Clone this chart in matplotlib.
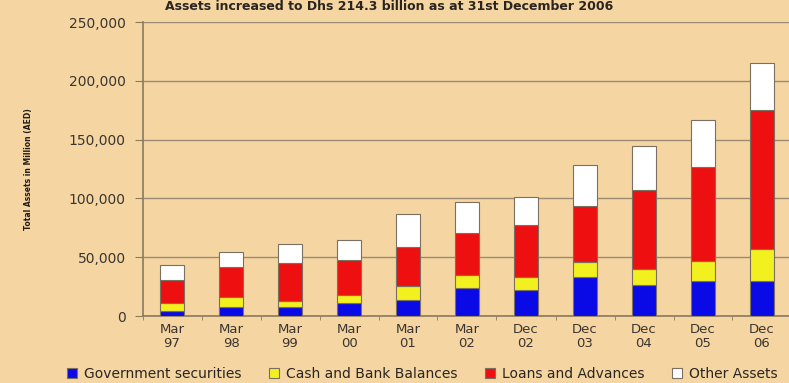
import matplotlib
matplotlib.use("Agg")
import matplotlib.pyplot as plt
import numpy as np

categories = ["Mar\n97", "Mar\n98", "Mar\n99", "Mar\n00", "Mar\n01", "Mar\n02",
              "Dec\n02", "Dec\n03", "Dec\n04", "Dec\n05", "Dec\n06"]
gov_securities = [4000, 8000, 8000, 11000, 13500, 24000, 22500, 33500, 26000, 30000, 30000]
cash_bank = [7000, 8000, 5000, 6500, 12000, 11000, 11000, 12500, 14000, 17000, 27000]
loans_adv = [20000, 25500, 32000, 30500, 33500, 36000, 43500, 47500, 67000, 80000, 118000]
other_assets = [12000, 13300, 16000, 16500, 27500, 26000, 24500, 35000, 37500, 39500, 40000]
series_names = ["Government securities", "Cash and Bank Balances", "Loans and Advances", "Other Assets"]
yticks = [0, 50000, 100000, 150000, 200000, 250000]

bg = "#F5D6A2"
colors = ["#0A0AE6", "#F2F01E", "#EE1010", "#FFFFFF"]
txt = "#3a3530"

fig = plt.figure(figsize=(7.89, 3.83), dpi=100, facecolor=bg)
ax = fig.add_axes([142.5/789, 1 - 316/383, (791.5-142.5)/789, (316-22)/383])
ax.set_facecolor(bg)

x = np.arange(len(categories))
bottom = np.zeros(len(categories))
handles = []
for vals, c, name in zip([gov_securities, cash_bank, loans_adv, other_assets], colors, series_names):
    b = ax.bar(x, vals, width=0.42, bottom=bottom, color=c, edgecolor="#7a6f60",
               linewidth=0.8, label=name, zorder=3)
    handles.append(b)
    bottom += np.array(vals)

ax.set_xlim(-0.5, len(categories) - 0.5)
ax.set_ylim(0, 250000)
ax.set_yticks(yticks)
ax.set_yticklabels([f"{v:,}" for v in yticks], fontsize=10, color=txt,
                   family="DejaVu Sans")
ax.yaxis.grid(True, color="#9c8b70", linewidth=1.0, zorder=0)
ax.set_axisbelow(True)
ax.set_xticks(x)
ax.set_xticklabels(categories, fontsize=9.5, color=txt,
                   family="DejaVu Sans", linespacing=1.15)
ax.set_xticks(np.arange(len(categories) + 1) - 0.5, minor=True)
ax.tick_params(axis="x", which="major", length=0, pad=5)
ax.tick_params(axis="x", which="minor", length=3, color="#8a7a60")
ax.tick_params(axis="y", length=6, color="#8a7a60", pad=6)
for s in ["top", "right"]:
    ax.spines[s].set_visible(False)
for s in ["left", "bottom"]:
    ax.spines[s].set_color("#8a7a60")
    ax.spines[s].set_linewidth(1.2)

ax.set_ylabel("Total Assets in Million (AED)", fontsize=5.5, fontweight="bold", color="#201a15")
ax.yaxis.set_label_coords(-0.168, 0.5)

fig.text(0.493, 1.0, "Assets increased to Dhs 214.3 billion as at 31st December 2006",
         ha="center", va="top", fontsize=9, fontweight="bold", color="#2a2520",
         family="DejaVu Sans")

leg = fig.legend(handles=handles, labels=series_names, loc="center", ncol=4,
                 bbox_to_anchor=(0.535, 1 - 374/383), frameon=False,
                 handlelength=0.7, handleheight=0.7, columnspacing=2.0, handletextpad=0.5,
                 prop={"family": "DejaVu Sans", "size": 10})
for t in leg.get_texts():
    t.set_color("#2a2520")

fig.savefig("out.png", dpi=100, facecolor=bg)
